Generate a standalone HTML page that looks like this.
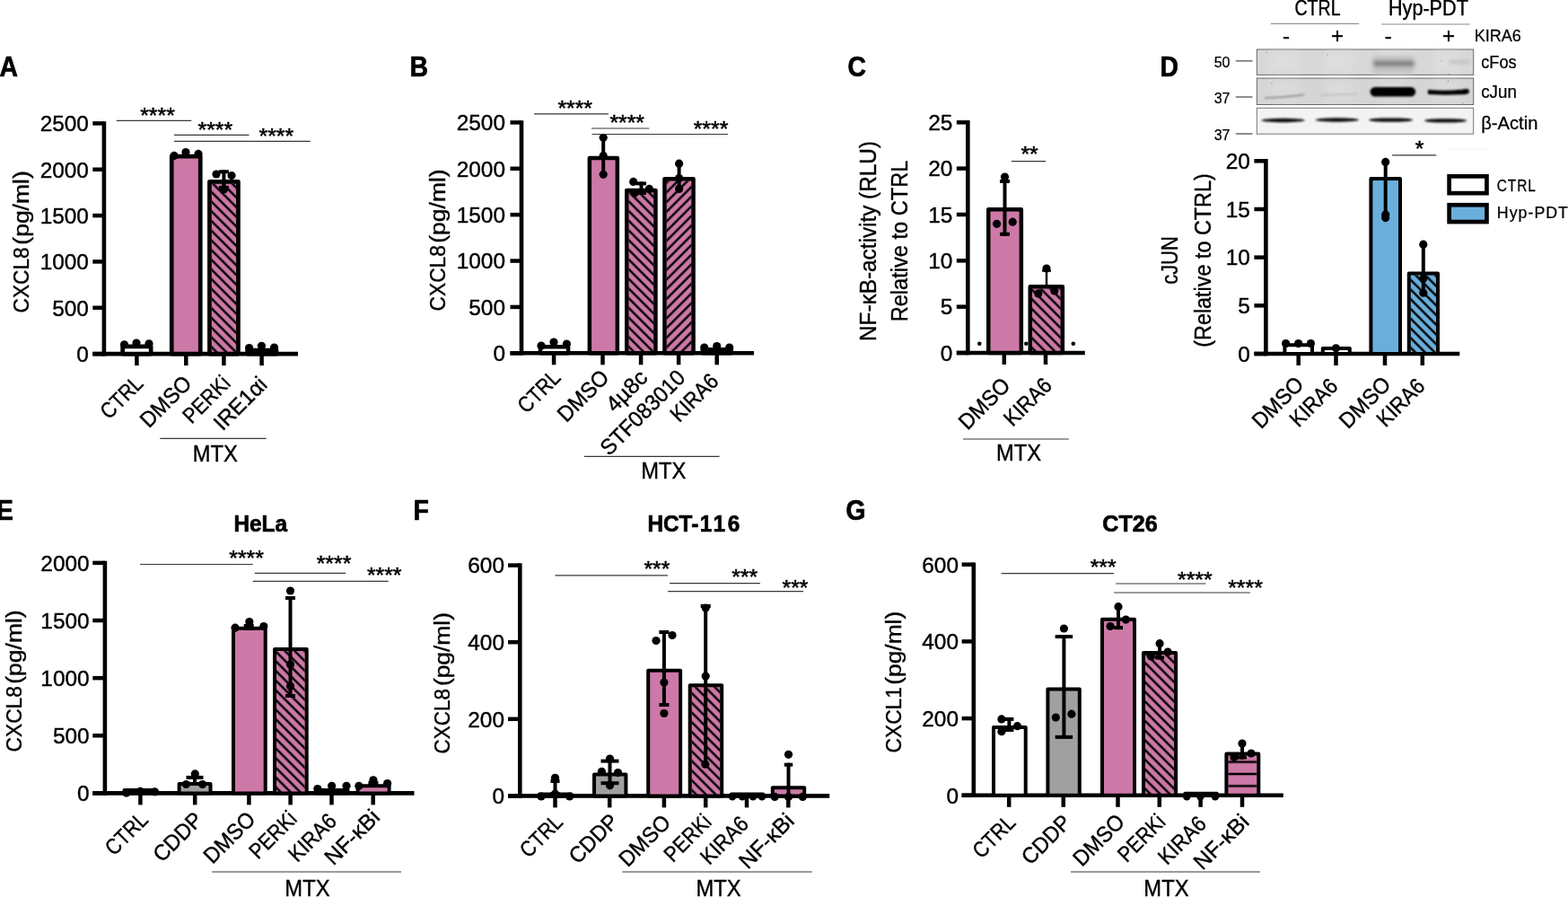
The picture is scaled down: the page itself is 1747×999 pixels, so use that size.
<!DOCTYPE html>
<html lang="en">
<head>
<meta charset="utf-8">
<title>Figure</title>
<style>
html,body{margin:0;padding:0;background:#fff;}
body{width:1747px;height:999px;overflow:hidden;}
svg{display:block;font-family:"Liberation Sans",sans-serif;}
text{stroke:#000;stroke-width:0.4px;}
</style>
</head>
<body>
<svg width="1747" height="999" viewBox="0 0 1747 999">
<defs>
<pattern id="h0" width="7.63" height="7.63" patternUnits="userSpaceOnUse" patternTransform="translate(238.3 297.4) rotate(45)"><rect x="-1" y="2.56" width="9.63" height="2.5" fill="#000"/></pattern>
<pattern id="h1" width="7.63" height="7.63" patternUnits="userSpaceOnUse" patternTransform="translate(703.2 297.1) rotate(45)"><rect x="-1" y="2.56" width="9.63" height="2.5" fill="#000"/></pattern>
<pattern id="h2" width="7.63" height="7.63" patternUnits="userSpaceOnUse" patternTransform="translate(739.9 308.7) rotate(-45)"><rect x="-1" y="2.56" width="9.63" height="2.5" fill="#000"/></pattern>
<pattern id="h3" width="7.63" height="7.63" patternUnits="userSpaceOnUse" patternTransform="translate(1153 342) rotate(45)"><rect x="-1" y="2.56" width="9.63" height="2.5" fill="#000"/></pattern>
<pattern id="h4" width="7.63" height="7.63" patternUnits="userSpaceOnUse" patternTransform="translate(1574.4 309) rotate(45)"><rect x="-1" y="2.56" width="9.63" height="2.5" fill="#000"/></pattern>
<pattern id="h5" width="7.63" height="7.63" patternUnits="userSpaceOnUse" patternTransform="translate(310.6 788.2) rotate(45)"><rect x="-1" y="2.56" width="9.63" height="2.5" fill="#000"/></pattern>
<pattern id="h6" width="7.63" height="7.63" patternUnits="userSpaceOnUse" patternTransform="translate(773.5 790.9) rotate(45)"><rect x="-1" y="2.56" width="9.63" height="2.5" fill="#000"/></pattern>
<pattern id="h7" width="7.63" height="7.63" patternUnits="userSpaceOnUse" patternTransform="translate(1279.1 790) rotate(45)"><rect x="-1" y="2.56" width="9.63" height="2.5" fill="#000"/></pattern>
<pattern id="h8" width="13.4" height="13.4" patternUnits="userSpaceOnUse" patternTransform="translate(1370 841.9) rotate(0)"><rect x="-1" y="5.45" width="15.4" height="2.5" fill="#000"/></pattern>
<filter id="b1" x="-20%" y="-100%" width="140%" height="300%"><feGaussianBlur stdDeviation="0.9"/></filter>
<filter id="b2" x="-20%" y="-100%" width="140%" height="300%"><feGaussianBlur stdDeviation="2"/></filter>
<filter id="b3" x="-30%" y="-30%" width="160%" height="160%"><feGaussianBlur stdDeviation="4"/></filter>
</defs>
<rect width="1747" height="999" fill="#fff"/>
<text transform="translate(-0.6 84.8) scale(0.92 1)" font-size="30.8" font-weight="bold" style="stroke-width:0.7px">A</text>
<text transform="translate(456.4 84.8) scale(0.92 1)" font-size="30.8" font-weight="bold" style="stroke-width:0.7px">B</text>
<text transform="translate(944.4 84.8) scale(0.92 1)" font-size="30.8" font-weight="bold" style="stroke-width:0.7px">C</text>
<text transform="translate(1292.4 84.8) scale(0.92 1)" font-size="30.8" font-weight="bold" style="stroke-width:0.7px">D</text>
<text transform="translate(-4.1 578.8) scale(0.92 1)" font-size="30.8" font-weight="bold" style="stroke-width:0.7px">E</text>
<text transform="translate(460.4 578.8) scale(0.92 1)" font-size="30.8" font-weight="bold" style="stroke-width:0.7px">F</text>
<text transform="translate(942.4 578.8) scale(0.92 1)" font-size="30.8" font-weight="bold" style="stroke-width:0.7px">G</text>
<line x1="115.9" y1="135.15" x2="115.9" y2="396.4" stroke="#000" stroke-width="4.6"/>
<line x1="103.3" y1="394.1" x2="332" y2="394.1" stroke="#000" stroke-width="4.6"/>
<line x1="103.3" y1="394.1" x2="115.9" y2="394.1" stroke="#000" stroke-width="4.5"/>
<text x="98.9" y="402.9" font-size="24.4" text-anchor="end">0</text>
<line x1="103.3" y1="342.76" x2="115.9" y2="342.76" stroke="#000" stroke-width="4.5"/>
<text x="98.9" y="351.56" font-size="24.4" text-anchor="end">500</text>
<line x1="103.3" y1="291.42" x2="115.9" y2="291.42" stroke="#000" stroke-width="4.5"/>
<text x="98.9" y="300.22" font-size="24.4" text-anchor="end">1000</text>
<line x1="103.3" y1="240.08" x2="115.9" y2="240.08" stroke="#000" stroke-width="4.5"/>
<text x="98.9" y="248.88" font-size="24.4" text-anchor="end">1500</text>
<line x1="103.3" y1="188.74" x2="115.9" y2="188.74" stroke="#000" stroke-width="4.5"/>
<text x="98.9" y="197.54" font-size="24.4" text-anchor="end">2000</text>
<line x1="103.3" y1="137.4" x2="115.9" y2="137.4" stroke="#000" stroke-width="4.5"/>
<text x="98.9" y="146.2" font-size="24.4" text-anchor="end">2500</text>
<line x1="152.4" y1="394.1" x2="152.4" y2="407.1" stroke="#000" stroke-width="4.5"/>
<line x1="207.3" y1="394.1" x2="207.3" y2="407.1" stroke="#000" stroke-width="4.5"/>
<line x1="249.4" y1="394.1" x2="249.4" y2="407.1" stroke="#000" stroke-width="4.5"/>
<line x1="291.6" y1="394.1" x2="291.6" y2="407.1" stroke="#000" stroke-width="4.5"/>
<rect x="136.65" y="385.95" width="31.5" height="8.15" fill="#fff" stroke="#000" stroke-width="4.7" stroke-linejoin="round"/>
<rect x="191.25" y="174.15" width="32" height="219.95" fill="#cd79a7" stroke="#000" stroke-width="4.7" stroke-linejoin="round"/>
<rect x="233.45" y="202.45" width="32" height="191.65" fill="#cd79a7" stroke="#000" stroke-width="4.7" stroke-linejoin="round"/>
<rect x="235.8" y="204.8" width="27.3" height="189.3" fill="url(#h0)"/>
<rect x="275.65" y="390.05" width="32.3" height="4.05" fill="#cd79a7" stroke="#000" stroke-width="4.7" stroke-linejoin="round"/>
<circle cx="138.5" cy="383.8" r="4.6"/>
<circle cx="152" cy="382" r="4.6"/>
<circle cx="166" cy="382.8" r="4.6"/>
<circle cx="194" cy="173.4" r="4.6"/>
<circle cx="207" cy="169.6" r="4.6"/>
<circle cx="221" cy="171.4" r="4.6"/>
<line x1="249.4" y1="189.3" x2="249.4" y2="211" stroke="#000" stroke-width="4"/>
<line x1="243.9" y1="191.3" x2="254.9" y2="191.3" stroke="#000" stroke-width="4"/>
<line x1="243.9" y1="209" x2="254.9" y2="209" stroke="#000" stroke-width="4"/>
<circle cx="241" cy="194" r="4.6"/>
<circle cx="258" cy="195.6" r="4.6"/>
<circle cx="249.4" cy="211" r="4.6"/>
<circle cx="277.6" cy="387.5" r="4.6"/>
<circle cx="291.4" cy="385.3" r="4.6"/>
<circle cx="305.5" cy="387" r="4.6"/>
<line x1="129.7" y1="134.4" x2="213.3" y2="134.4" stroke="#383838" stroke-width="1.2"/>
<text x="175.5" y="137.04" font-size="24.8" text-anchor="middle" style="stroke-width:0.55px">****</text>
<line x1="194" y1="150.3" x2="277.5" y2="150.3" stroke="#383838" stroke-width="1.2"/>
<text x="239.8" y="152.84" font-size="24.8" text-anchor="middle" style="stroke-width:0.55px">****</text>
<line x1="194" y1="157.3" x2="345.8" y2="157.3" stroke="#383838" stroke-width="1.2"/>
<text x="307.8" y="159.54" font-size="24.8" text-anchor="middle" style="stroke-width:0.55px">****</text>
<text transform="translate(32 348.4) rotate(-90)" font-size="24.4" textLength="73.1" lengthAdjust="spacingAndGlyphs">CXCL8</text>
<text transform="translate(32 272.7) rotate(-90)" font-size="24.4" textLength="82.5" lengthAdjust="spacingAndGlyphs">(pg/ml)</text>
<text transform="translate(161 428.5) rotate(-45) scale(0.87 1)" font-size="24.6" text-anchor="end">CTRL</text>
<text transform="translate(215 428.5) rotate(-45) scale(0.94 1)" font-size="24.6" text-anchor="end">DMSO</text>
<text transform="translate(258 428.5) rotate(-45) scale(0.87 1)" font-size="24.6" text-anchor="end">PERKi</text>
<text transform="translate(299 429.8) rotate(-45) scale(0.97 1)" font-size="24.6" text-anchor="end">IRE1&#945;i</text>
<line x1="178.3" y1="488.3" x2="296.7" y2="488.3" stroke="#383838" stroke-width="1.2"/>
<text transform="translate(239.8 514) scale(0.95 1)" font-size="25" text-anchor="middle">MTX</text>
<line x1="581" y1="134.15" x2="581" y2="395.6" stroke="#000" stroke-width="4.6"/>
<line x1="568.5" y1="393.3" x2="840" y2="393.3" stroke="#000" stroke-width="4.6"/>
<line x1="568.5" y1="393.3" x2="581" y2="393.3" stroke="#000" stroke-width="4.5"/>
<text x="563" y="402.1" font-size="24.4" text-anchor="end">0</text>
<line x1="568.5" y1="341.92" x2="581" y2="341.92" stroke="#000" stroke-width="4.5"/>
<text x="563" y="350.72" font-size="24.4" text-anchor="end">500</text>
<line x1="568.5" y1="290.54" x2="581" y2="290.54" stroke="#000" stroke-width="4.5"/>
<text x="563" y="299.34" font-size="24.4" text-anchor="end">1000</text>
<line x1="568.5" y1="239.16" x2="581" y2="239.16" stroke="#000" stroke-width="4.5"/>
<text x="563" y="247.96" font-size="24.4" text-anchor="end">1500</text>
<line x1="568.5" y1="187.78" x2="581" y2="187.78" stroke="#000" stroke-width="4.5"/>
<text x="563" y="196.58" font-size="24.4" text-anchor="end">2000</text>
<line x1="568.5" y1="136.4" x2="581" y2="136.4" stroke="#000" stroke-width="4.5"/>
<text x="563" y="145.2" font-size="24.4" text-anchor="end">2500</text>
<line x1="617.1" y1="393.3" x2="617.1" y2="406.3" stroke="#000" stroke-width="4.5"/>
<line x1="671.5" y1="393.3" x2="671.5" y2="406.3" stroke="#000" stroke-width="4.5"/>
<line x1="714.1" y1="393.3" x2="714.1" y2="406.3" stroke="#000" stroke-width="4.5"/>
<line x1="756.1" y1="393.3" x2="756.1" y2="406.3" stroke="#000" stroke-width="4.5"/>
<line x1="798.7" y1="393.3" x2="798.7" y2="406.3" stroke="#000" stroke-width="4.5"/>
<rect x="602.05" y="386.35" width="31" height="6.95" fill="#fff" stroke="#000" stroke-width="4.5" stroke-linejoin="round"/>
<rect x="656.85" y="176.05" width="31" height="217.25" fill="#cd79a7" stroke="#000" stroke-width="4.5" stroke-linejoin="round"/>
<rect x="698.25" y="212.05" width="32.2" height="181.25" fill="#cd79a7" stroke="#000" stroke-width="4.5" stroke-linejoin="round"/>
<rect x="700.5" y="214.3" width="27.7" height="179" fill="url(#h1)"/>
<rect x="740.45" y="199.25" width="32.1" height="194.05" fill="#cd79a7" stroke="#000" stroke-width="4.5" stroke-linejoin="round"/>
<rect x="742.7" y="201.5" width="27.6" height="191.8" fill="url(#h2)"/>
<rect x="782.75" y="389.35" width="32" height="3.95" fill="#cd79a7" stroke="#000" stroke-width="4.5" stroke-linejoin="round"/>
<circle cx="603" cy="385" r="4.6"/>
<circle cx="617" cy="381" r="4.6"/>
<circle cx="631.4" cy="383" r="4.6"/>
<line x1="672.2" y1="153.3" x2="672.2" y2="194.3" stroke="#000" stroke-width="4"/>
<circle cx="672.2" cy="153.3" r="4.6"/>
<circle cx="672.2" cy="173.4" r="4.6"/>
<circle cx="672.2" cy="194.3" r="4.6"/>
<line x1="714.5" y1="202.4" x2="714.5" y2="217" stroke="#000" stroke-width="4"/>
<line x1="709" y1="204.4" x2="720" y2="204.4" stroke="#000" stroke-width="4"/>
<line x1="709" y1="215" x2="720" y2="215" stroke="#000" stroke-width="4"/>
<circle cx="705.7" cy="202.4" r="4.6"/>
<circle cx="723.4" cy="210.4" r="4.6"/>
<circle cx="707" cy="215" r="4.6"/>
<line x1="756.6" y1="182.2" x2="756.6" y2="210.4" stroke="#000" stroke-width="4"/>
<circle cx="756.6" cy="182.2" r="4.6"/>
<circle cx="756.6" cy="198.6" r="4.6"/>
<circle cx="756.6" cy="210.4" r="4.6"/>
<circle cx="784.7" cy="387" r="4.6"/>
<circle cx="798.7" cy="385.6" r="4.6"/>
<circle cx="812.7" cy="387" r="4.6"/>
<line x1="595" y1="126.86" x2="678" y2="126.86" stroke="#383838" stroke-width="1.2"/>
<text x="640.7" y="129.24" font-size="24.8" text-anchor="middle" style="stroke-width:0.55px">****</text>
<line x1="659" y1="143" x2="723.4" y2="143" stroke="#383838" stroke-width="1.2"/>
<text x="698.7" y="145.29" font-size="24.8" text-anchor="middle" style="stroke-width:0.55px">****</text>
<line x1="659.5" y1="149.5" x2="811" y2="149.5" stroke="#383838" stroke-width="1.2"/>
<text x="792" y="152.34" font-size="24.8" text-anchor="middle" style="stroke-width:0.55px">****</text>
<text transform="translate(496 346.4) rotate(-90)" font-size="24.4" textLength="73.3" lengthAdjust="spacingAndGlyphs">CXCL8</text>
<text transform="translate(496 270.7) rotate(-90)" font-size="24.4" textLength="82.3" lengthAdjust="spacingAndGlyphs">(pg/ml)</text>
<text transform="translate(626 422.1) rotate(-45) scale(0.87 1)" font-size="24.6" text-anchor="end">CTRL</text>
<text transform="translate(680 422.1) rotate(-45) scale(0.94 1)" font-size="24.6" text-anchor="end">DMSO</text>
<text transform="translate(723 422.1) rotate(-45) scale(1 1)" font-size="24.6" text-anchor="end">4&#181;8c</text>
<text transform="translate(765 422.1) rotate(-45) scale(0.95 1)" font-size="24.6" text-anchor="end">STF083010</text>
<text transform="translate(802 426.1) rotate(-45) scale(0.9 1)" font-size="24.6" text-anchor="end">KIRA6</text>
<line x1="650.8" y1="508.4" x2="801.5" y2="508.4" stroke="#383838" stroke-width="1.2"/>
<text transform="translate(739.3 533) scale(0.95 1)" font-size="25" text-anchor="middle">MTX</text>
<line x1="1078.3" y1="134.05" x2="1078.3" y2="395.3" stroke="#000" stroke-width="4.6"/>
<line x1="1065.8" y1="393" x2="1208.8" y2="393" stroke="#000" stroke-width="4.6"/>
<line x1="1065.8" y1="393" x2="1078.3" y2="393" stroke="#000" stroke-width="4.5"/>
<text x="1061.4" y="401.8" font-size="24.4" text-anchor="end">0</text>
<line x1="1065.8" y1="341.66" x2="1078.3" y2="341.66" stroke="#000" stroke-width="4.5"/>
<text x="1061.4" y="350.46" font-size="24.4" text-anchor="end">5</text>
<line x1="1065.8" y1="290.32" x2="1078.3" y2="290.32" stroke="#000" stroke-width="4.5"/>
<text x="1061.4" y="299.12" font-size="24.4" text-anchor="end">10</text>
<line x1="1065.8" y1="238.98" x2="1078.3" y2="238.98" stroke="#000" stroke-width="4.5"/>
<text x="1061.4" y="247.78" font-size="24.4" text-anchor="end">15</text>
<line x1="1065.8" y1="187.64" x2="1078.3" y2="187.64" stroke="#000" stroke-width="4.5"/>
<text x="1061.4" y="196.44" font-size="24.4" text-anchor="end">20</text>
<line x1="1065.8" y1="136.3" x2="1078.3" y2="136.3" stroke="#000" stroke-width="4.5"/>
<text x="1061.4" y="145.1" font-size="24.4" text-anchor="end">25</text>
<line x1="1118.8" y1="393" x2="1118.8" y2="406" stroke="#000" stroke-width="4.5"/>
<line x1="1165" y1="393" x2="1165" y2="406" stroke="#000" stroke-width="4.5"/>
<rect x="1101.25" y="233.35" width="36.6" height="159.65" fill="#cd79a7" stroke="#000" stroke-width="4.5" stroke-linejoin="round"/>
<rect x="1147.75" y="319.25" width="36.1" height="73.75" fill="#cd79a7" stroke="#000" stroke-width="4.5" stroke-linejoin="round"/>
<rect x="1150" y="321.5" width="31.6" height="71.5" fill="url(#h3)"/>
<line x1="1119.5" y1="199.9" x2="1119.5" y2="262.8" stroke="#000" stroke-width="4"/>
<line x1="1114" y1="201.9" x2="1125" y2="201.9" stroke="#000" stroke-width="4"/>
<line x1="1114" y1="260.8" x2="1125" y2="260.8" stroke="#000" stroke-width="4"/>
<circle cx="1119.5" cy="197" r="4.6"/>
<circle cx="1110.6" cy="249.3" r="4.6"/>
<circle cx="1128.2" cy="247.2" r="4.6"/>
<line x1="1166" y1="300" x2="1166" y2="318" stroke="#000" stroke-width="2.4"/>
<line x1="1161" y1="301.6" x2="1171" y2="301.6" stroke="#000" stroke-width="2.2"/>
<circle cx="1166" cy="299" r="4.6"/>
<circle cx="1156.8" cy="326.9" r="4.6"/>
<circle cx="1174.8" cy="324" r="4.6"/>
<circle cx="1091.3" cy="382.8" r="2.3"/>
<circle cx="1143.3" cy="382.8" r="2.3"/>
<circle cx="1195.8" cy="382.8" r="2.3"/>
<line x1="1126.8" y1="179.6" x2="1165.1" y2="179.6" stroke="#383838" stroke-width="1.2"/>
<text x="1147.1" y="179.54" font-size="24.8" text-anchor="middle" style="stroke-width:0.55px">**</text>
<text transform="translate(976 268.5) rotate(-90)" font-size="25" text-anchor="middle" textLength="222.9" lengthAdjust="spacingAndGlyphs">NF-&#954;B-activity (RLU)</text>
<text transform="translate(1011 268.5) rotate(-90)" font-size="25" text-anchor="middle" textLength="179.7" lengthAdjust="spacingAndGlyphs">Relative to CTRL</text>
<text transform="translate(1127 430.8) rotate(-45) scale(0.94 1)" font-size="24.6" text-anchor="end">DMSO</text>
<text transform="translate(1173.5 430.8) rotate(-45) scale(0.9 1)" font-size="24.6" text-anchor="end">KIRA6</text>
<line x1="1073" y1="489" x2="1190.8" y2="489" stroke="#383838" stroke-width="1.2"/>
<text transform="translate(1135 513) scale(0.95 1)" font-size="25" text-anchor="middle">MTX</text>
<text transform="translate(1468 16.8) scale(0.85 1)" font-size="23" text-anchor="middle">CTRL</text>
<text transform="translate(1591.4 16.8) scale(0.94 1)" font-size="23" text-anchor="middle">Hyp-PDT</text>
<line x1="1415.8" y1="26.5" x2="1514.2" y2="26.5" stroke="#888" stroke-width="1.2"/>
<line x1="1539.3" y1="27" x2="1637.7" y2="27" stroke="#888" stroke-width="1.2"/>
<text x="1433" y="47.5" font-size="24" text-anchor="middle">-</text>
<text x="1490" y="47.5" font-size="24" text-anchor="middle">+</text>
<text x="1546.8" y="47.5" font-size="24" text-anchor="middle">-</text>
<text x="1614" y="47.5" font-size="24" text-anchor="middle">+</text>
<text transform="translate(1642.7 46) scale(0.95 1)" font-size="19" style="stroke-width:0.25px">KIRA6</text>
<rect x="1400.3" y="55" width="241.4" height="28.4" fill="#d8d8d8" stroke="#666" stroke-width="1"/>
<rect x="1400.3" y="87.1" width="241.4" height="29.4" fill="#d5d5d5" stroke="#666" stroke-width="1"/>
<rect x="1400.3" y="120.3" width="241.4" height="28.9" fill="#f3f3f3" stroke="#777" stroke-width="1"/>
<g filter="url(#b3)" opacity="0.55">
<rect x="1416" y="58" width="30" height="22" fill="#e2e2e2"/>
<rect x="1416" y="90" width="30" height="23" fill="#dfdfdf"/>
<rect x="1477" y="58" width="30" height="22" fill="#e2e2e2"/>
<rect x="1477" y="90" width="30" height="23" fill="#dfdfdf"/>
<rect x="1538" y="58" width="30" height="22" fill="#e2e2e2"/>
<rect x="1538" y="90" width="30" height="23" fill="#dfdfdf"/>
<rect x="1597" y="58" width="30" height="22" fill="#e2e2e2"/>
<rect x="1597" y="90" width="30" height="23" fill="#dfdfdf"/>
</g>
<g filter="url(#b2)">
<rect x="1529" y="62" width="47" height="20" rx="4" fill="#c4c4c4"/>
<rect x="1530" y="67.5" width="46" height="6.5" rx="3" fill="#7d7d7d"/>
<rect x="1614" y="67" width="24" height="4" rx="2" fill="#c0c0c0"/>
</g>
<g filter="url(#b1)">
<rect x="1526.6" y="97" width="50.6" height="10.6" rx="5.3" fill="#000"/>
<path d="M1591.5 100.6 Q1612 102.4 1630 100 Q1636 98.6 1636.5 101.6 Q1636 104.8 1630 104.6 Q1610 105.6 1591.5 104.4 Z" fill="#000" stroke="#000" stroke-width="1.2" stroke-linejoin="round"/>
<path d="M1409 108.3 Q1430 107.5 1453 104.6 L1453 106.6 Q1430 109.8 1409 110.2 Z" fill="#9a9a9a"/>
<path d="M1471 105.6 Q1490 104.2 1512 104 L1512 105.6 Q1490 106 1471 107.2 Z" fill="#bdbdbd"/>
<ellipse cx="1429.6" cy="134" rx="24.3" ry="2.2" fill="#111"/>
<ellipse cx="1489.8" cy="133.5" rx="24.3" ry="2.2" fill="#111"/>
<ellipse cx="1549.6" cy="133.6" rx="24.6" ry="2.2" fill="#111"/>
<ellipse cx="1610.6" cy="134.4" rx="23.6" ry="2.2" fill="#111"/>
</g>
<circle cx="1411" cy="58.3" r="0.6" fill="#777"/>
<circle cx="1479" cy="61" r="0.6" fill="#777"/>
<circle cx="1606.2" cy="67.5" r="0.6" fill="#777"/>
<circle cx="1417" cy="92.6" r="0.6" fill="#777"/>
<circle cx="1613.5" cy="90.4" r="0.6" fill="#777"/>
<circle cx="1614" cy="82.5" r="0.6" fill="#777"/>
<circle cx="1630" cy="115" r="0.6" fill="#777"/>
<text x="1352.7" y="74.8" font-size="16" style="stroke-width:0.25px">50</text>
<line x1="1376.8" y1="67.9" x2="1395.5" y2="67.9" stroke="#444" stroke-width="1.2"/>
<text x="1352.7" y="115" font-size="16" style="stroke-width:0.25px">37</text>
<line x1="1376.8" y1="108" x2="1395.5" y2="108" stroke="#444" stroke-width="1.2"/>
<text x="1352.7" y="155.6" font-size="16" style="stroke-width:0.25px">37</text>
<line x1="1376.8" y1="149" x2="1395.5" y2="149" stroke="#444" stroke-width="1.2"/>
<text transform="translate(1650.2 76.2) scale(0.91 1)" font-size="20" style="stroke-width:0.25px">cFos</text>
<text transform="translate(1650.2 108.8) scale(0.94 1)" font-size="20" style="stroke-width:0.25px">cJun</text>
<text transform="translate(1650.2 144.3) scale(1.01 1)" font-size="20" style="stroke-width:0.25px">&#946;-Actin</text>
<line x1="1410.4" y1="177.05" x2="1410.4" y2="396.3" stroke="#000" stroke-width="4.6"/>
<line x1="1397.4" y1="394" x2="1626.3" y2="394" stroke="#000" stroke-width="4.6"/>
<line x1="1397.4" y1="394" x2="1410.4" y2="394" stroke="#000" stroke-width="4.5"/>
<text x="1392.9" y="402.8" font-size="24.4" text-anchor="end">0</text>
<line x1="1397.4" y1="340.32" x2="1410.4" y2="340.32" stroke="#000" stroke-width="4.5"/>
<text x="1392.9" y="349.12" font-size="24.4" text-anchor="end">5</text>
<line x1="1397.4" y1="286.65" x2="1410.4" y2="286.65" stroke="#000" stroke-width="4.5"/>
<text x="1392.9" y="295.45" font-size="24.4" text-anchor="end">10</text>
<line x1="1397.4" y1="232.97" x2="1410.4" y2="232.97" stroke="#000" stroke-width="4.5"/>
<text x="1392.9" y="241.78" font-size="24.4" text-anchor="end">15</text>
<line x1="1397.4" y1="179.3" x2="1410.4" y2="179.3" stroke="#000" stroke-width="4.5"/>
<text x="1392.9" y="188.1" font-size="24.4" text-anchor="end">20</text>
<line x1="1446.7" y1="394" x2="1446.7" y2="407" stroke="#000" stroke-width="4.5"/>
<line x1="1488.5" y1="394" x2="1488.5" y2="407" stroke="#000" stroke-width="4.5"/>
<line x1="1543" y1="394" x2="1543" y2="407" stroke="#000" stroke-width="4.5"/>
<line x1="1584.8" y1="394" x2="1584.8" y2="407" stroke="#000" stroke-width="4.5"/>
<rect x="1431.4" y="384.3" width="30.6" height="9.7" fill="#fff" stroke="#000" stroke-width="4" stroke-linejoin="round"/>
<rect x="1473.8" y="388.1" width="30" height="5.9" fill="#fff" stroke="#000" stroke-width="4" stroke-linejoin="round"/>
<rect x="1527.4" y="199.1" width="32.6" height="194.9" fill="#6aafdc" stroke="#000" stroke-width="4" stroke-linejoin="round"/>
<rect x="1569.8" y="304.5" width="32.2" height="89.5" fill="#6aafdc" stroke="#000" stroke-width="4" stroke-linejoin="round"/>
<rect x="1571.8" y="306.5" width="28.2" height="87.5" fill="url(#h4)"/>
<circle cx="1432.6" cy="382.6" r="4.6"/>
<circle cx="1446.7" cy="382.6" r="4.6"/>
<circle cx="1460.4" cy="382.6" r="4.6"/>
<circle cx="1488.5" cy="387.8" r="4.6"/>
<line x1="1543.7" y1="180.4" x2="1543.7" y2="242" stroke="#000" stroke-width="4"/>
<circle cx="1543.7" cy="180.4" r="4.6"/>
<circle cx="1543.7" cy="239" r="4.6"/>
<circle cx="1543.7" cy="242.6" r="4.6"/>
<line x1="1585.8" y1="274" x2="1585.8" y2="327" stroke="#000" stroke-width="4"/>
<circle cx="1585.8" cy="272.2" r="4.6"/>
<circle cx="1585.8" cy="310.2" r="4.6"/>
<circle cx="1585.8" cy="326.2" r="4.6"/>
<line x1="1551.1" y1="172.95" x2="1600.2" y2="172.95" stroke="#383838" stroke-width="1.2"/>
<text x="1581.5" y="173.94" font-size="24.8" text-anchor="middle" style="stroke-width:0.55px">*</text>
<rect x="1614.65" y="196.35" width="41.8" height="18.8" fill="#fff" stroke="#000" stroke-width="4.7"/>
<rect x="1614.65" y="228.25" width="41.8" height="18.8" fill="#6aafdc" stroke="#000" stroke-width="4.7"/>
<text transform="translate(1667.8 213) scale(0.86 1)" font-size="18" letter-spacing="1" style="stroke-width:0.25px">CTRL</text>
<text transform="translate(1667.8 242.6) scale(0.99 1)" font-size="18" letter-spacing="1" style="stroke-width:0.25px">Hyp-PDT</text>
<line x1="1612.4" y1="166" x2="1658" y2="166" stroke="#f3f3f3" stroke-width="1"/>
<text transform="translate(1312 290) rotate(-90)" font-size="25" text-anchor="middle" textLength="53.7" lengthAdjust="spacingAndGlyphs">cJUN</text>
<text transform="translate(1349 290) rotate(-90)" font-size="25" text-anchor="middle" textLength="193.5" lengthAdjust="spacingAndGlyphs">(Relative to CTRL)</text>
<text transform="translate(1454 429.5) rotate(-45) scale(0.94 1)" font-size="24.6" text-anchor="end">DMSO</text>
<text transform="translate(1492 431.5) rotate(-45) scale(0.9 1)" font-size="24.6" text-anchor="end">KIRA6</text>
<text transform="translate(1551 429.5) rotate(-45) scale(0.94 1)" font-size="24.6" text-anchor="end">DMSO</text>
<text transform="translate(1589 431.5) rotate(-45) scale(0.9 1)" font-size="24.6" text-anchor="end">KIRA6</text>
<text transform="translate(290.2 591.7) scale(0.93 1)" font-size="26.15" text-anchor="middle" font-weight="bold" style="stroke-width:0.7px">HeLa</text>
<line x1="116.9" y1="624.65" x2="116.9" y2="885.7" stroke="#000" stroke-width="4.6"/>
<line x1="103.3" y1="883.4" x2="461.5" y2="883.4" stroke="#000" stroke-width="4.6"/>
<line x1="103.3" y1="883.4" x2="116.9" y2="883.4" stroke="#000" stroke-width="4.5"/>
<text x="99.6" y="892.2" font-size="24.4" text-anchor="end">0</text>
<line x1="103.3" y1="819.27" x2="116.9" y2="819.27" stroke="#000" stroke-width="4.5"/>
<text x="99.6" y="828.07" font-size="24.4" text-anchor="end">500</text>
<line x1="103.3" y1="755.15" x2="116.9" y2="755.15" stroke="#000" stroke-width="4.5"/>
<text x="99.6" y="763.95" font-size="24.4" text-anchor="end">1000</text>
<line x1="103.3" y1="691.02" x2="116.9" y2="691.02" stroke="#000" stroke-width="4.5"/>
<text x="99.6" y="699.82" font-size="24.4" text-anchor="end">1500</text>
<line x1="103.3" y1="626.9" x2="116.9" y2="626.9" stroke="#000" stroke-width="4.5"/>
<text x="99.6" y="635.7" font-size="24.4" text-anchor="end">2000</text>
<line x1="156.4" y1="883.4" x2="156.4" y2="896.4" stroke="#000" stroke-width="4.5"/>
<line x1="217.2" y1="883.4" x2="217.2" y2="896.4" stroke="#000" stroke-width="4.5"/>
<line x1="277.4" y1="883.4" x2="277.4" y2="896.4" stroke="#000" stroke-width="4.5"/>
<line x1="323.6" y1="883.4" x2="323.6" y2="896.4" stroke="#000" stroke-width="4.5"/>
<line x1="369.5" y1="883.4" x2="369.5" y2="896.4" stroke="#000" stroke-width="4.5"/>
<line x1="415.7" y1="883.4" x2="415.7" y2="896.4" stroke="#000" stroke-width="4.5"/>
<rect x="138.5" y="880.1" width="35" height="3.3" fill="#fff" stroke="#000" stroke-width="4" stroke-linejoin="round"/>
<rect x="199.6" y="872.9" width="34.9" height="10.5" fill="#a0a0a0" stroke="#000" stroke-width="4" stroke-linejoin="round"/>
<rect x="260" y="699.8" width="35.7" height="183.6" fill="#cd79a7" stroke="#000" stroke-width="4" stroke-linejoin="round"/>
<rect x="306" y="723.1" width="35.7" height="160.3" fill="#cd79a7" stroke="#000" stroke-width="4" stroke-linejoin="round"/>
<rect x="308" y="725.1" width="31.7" height="158.3" fill="url(#h5)"/>
<rect x="352.5" y="880.1" width="35" height="3.3" fill="#cd79a7" stroke="#000" stroke-width="4" stroke-linejoin="round"/>
<rect x="398.6" y="875.2" width="35" height="8.2" fill="#cd79a7" stroke="#000" stroke-width="4" stroke-linejoin="round"/>
<circle cx="140.8" cy="883.1" r="4.6"/>
<circle cx="156.3" cy="881.3" r="4.6"/>
<circle cx="172.4" cy="881.8" r="4.6"/>
<line x1="217" y1="863.9" x2="217" y2="875" stroke="#000" stroke-width="4"/>
<line x1="207.5" y1="865.9" x2="226.5" y2="865.9" stroke="#000" stroke-width="4"/>
<line x1="207.5" y1="873" x2="226.5" y2="873" stroke="#000" stroke-width="4"/>
<circle cx="207.4" cy="873.5" r="4.6"/>
<circle cx="217.3" cy="861.9" r="4.6"/>
<circle cx="225.6" cy="873.5" r="4.6"/>
<line x1="277.2" y1="695" x2="277.2" y2="702" stroke="#000" stroke-width="4"/>
<line x1="271.7" y1="697" x2="282.7" y2="697" stroke="#000" stroke-width="4"/>
<line x1="271.7" y1="700" x2="282.7" y2="700" stroke="#000" stroke-width="4"/>
<circle cx="262" cy="699.2" r="4.6"/>
<circle cx="277.8" cy="692.6" r="4.6"/>
<circle cx="293.8" cy="697.6" r="4.6"/>
<line x1="323.5" y1="664" x2="323.5" y2="777" stroke="#000" stroke-width="4"/>
<line x1="318" y1="666" x2="329" y2="666" stroke="#000" stroke-width="4"/>
<line x1="318" y1="775" x2="329" y2="775" stroke="#000" stroke-width="4"/>
<circle cx="323.5" cy="658" r="4.6"/>
<circle cx="323.5" cy="740" r="4.6"/>
<circle cx="323.5" cy="764" r="4.6"/>
<circle cx="353.8" cy="878.6" r="4.6"/>
<circle cx="369.6" cy="875.3" r="4.6"/>
<circle cx="386" cy="875.3" r="4.6"/>
<line x1="415.9" y1="870" x2="415.9" y2="876" stroke="#000" stroke-width="4"/>
<line x1="410.4" y1="872" x2="421.4" y2="872" stroke="#000" stroke-width="4"/>
<circle cx="399.9" cy="875.3" r="4.6"/>
<circle cx="415.9" cy="868.8" r="4.6"/>
<circle cx="431.6" cy="872.5" r="4.6"/>
<line x1="156" y1="628.5" x2="281.8" y2="628.5" stroke="#383838" stroke-width="1.2"/>
<text x="274.6" y="629.74" font-size="24.8" text-anchor="middle" style="stroke-width:0.55px">****</text>
<line x1="283.8" y1="638.45" x2="385" y2="638.45" stroke="#383838" stroke-width="1.2"/>
<text x="372" y="636.44" font-size="24.8" text-anchor="middle" style="stroke-width:0.55px">****</text>
<line x1="281.8" y1="647.3" x2="432.7" y2="647.3" stroke="#383838" stroke-width="1.2"/>
<text x="428.2" y="648.54" font-size="24.8" text-anchor="middle" style="stroke-width:0.55px">****</text>
<text transform="translate(24 837.4) rotate(-90)" font-size="24.4" textLength="73.3" lengthAdjust="spacingAndGlyphs">CXCL8</text>
<text transform="translate(24 761.7) rotate(-90)" font-size="24.4" textLength="82.3" lengthAdjust="spacingAndGlyphs">(pg/ml)</text>
<text transform="translate(166.4 914.5) rotate(-45) scale(0.87 1)" font-size="24.6" text-anchor="end">CTRL</text>
<text transform="translate(227.2 914.5) rotate(-45) scale(0.95 1)" font-size="24.6" text-anchor="end">CDDP</text>
<text transform="translate(285.9 914) rotate(-45) scale(0.94 1)" font-size="24.6" text-anchor="end">DMSO</text>
<text transform="translate(332.1 913.5) rotate(-45) scale(0.87 1)" font-size="24.6" text-anchor="end">PERKi</text>
<text transform="translate(376.5 916) rotate(-45) scale(0.9 1)" font-size="24.6" text-anchor="end">KIRA6</text>
<text transform="translate(424.7 911.7) rotate(-45) scale(1 1)" font-size="24.6" text-anchor="end">NF-&#954;Bi</text>
<line x1="236" y1="971" x2="447" y2="971" stroke="#383838" stroke-width="1.2"/>
<text transform="translate(342.4 998) scale(0.95 1)" font-size="25" text-anchor="middle">MTX</text>
<text transform="translate(721.5 591.7) scale(0.93 1)" font-size="26.15" font-weight="bold" style="stroke-width:0.7px">HCT-<tspan dx="1.5" letter-spacing="2.9">116</tspan></text>
<line x1="579.3" y1="627.35" x2="579.3" y2="888.7" stroke="#000" stroke-width="4.6"/>
<line x1="566" y1="886.4" x2="924.2" y2="886.4" stroke="#000" stroke-width="4.6"/>
<line x1="566" y1="886.4" x2="579.3" y2="886.4" stroke="#000" stroke-width="4.5"/>
<text x="562" y="895.2" font-size="24.4" text-anchor="end">0</text>
<line x1="566" y1="800.8" x2="579.3" y2="800.8" stroke="#000" stroke-width="4.5"/>
<text x="562" y="809.6" font-size="24.4" text-anchor="end">200</text>
<line x1="566" y1="715.2" x2="579.3" y2="715.2" stroke="#000" stroke-width="4.5"/>
<text x="562" y="724" font-size="24.4" text-anchor="end">400</text>
<line x1="566" y1="629.6" x2="579.3" y2="629.6" stroke="#000" stroke-width="4.5"/>
<text x="562" y="638.4" font-size="24.4" text-anchor="end">600</text>
<line x1="618.5" y1="886.4" x2="618.5" y2="899.4" stroke="#000" stroke-width="4.5"/>
<line x1="679.2" y1="886.4" x2="679.2" y2="899.4" stroke="#000" stroke-width="4.5"/>
<line x1="739.9" y1="886.4" x2="739.9" y2="899.4" stroke="#000" stroke-width="4.5"/>
<line x1="786.2" y1="886.4" x2="786.2" y2="899.4" stroke="#000" stroke-width="4.5"/>
<line x1="832" y1="886.4" x2="832" y2="899.4" stroke="#000" stroke-width="4.5"/>
<line x1="878.3" y1="886.4" x2="878.3" y2="899.4" stroke="#000" stroke-width="4.5"/>
<rect x="601" y="884.6" width="35.5" height="1.8" fill="#fff" stroke="#000" stroke-width="4" stroke-linejoin="round"/>
<rect x="662" y="862.6" width="35.4" height="23.8" fill="#a0a0a0" stroke="#000" stroke-width="4" stroke-linejoin="round"/>
<rect x="722.2" y="746.7" width="35.9" height="139.7" fill="#cd79a7" stroke="#000" stroke-width="4" stroke-linejoin="round"/>
<rect x="768.7" y="763.2" width="35.5" height="123.2" fill="#cd79a7" stroke="#000" stroke-width="4" stroke-linejoin="round"/>
<rect x="770.7" y="765.2" width="31.5" height="121.2" fill="url(#h6)"/>
<rect x="814.7" y="884.5" width="35.5" height="1.9" fill="#cd79a7" stroke="#000" stroke-width="4" stroke-linejoin="round"/>
<rect x="860.8" y="877.3" width="35.4" height="9.1" fill="#cd79a7" stroke="#000" stroke-width="4" stroke-linejoin="round"/>
<line x1="618.5" y1="868" x2="618.5" y2="886" stroke="#000" stroke-width="4"/>
<line x1="613.5" y1="870" x2="623.5" y2="870" stroke="#000" stroke-width="4"/>
<line x1="613.5" y1="884" x2="623.5" y2="884" stroke="#000" stroke-width="4"/>
<circle cx="603" cy="887" r="4.6"/>
<circle cx="618.5" cy="866.3" r="4.6"/>
<circle cx="634.6" cy="887" r="4.6"/>
<circle cx="618.5" cy="884" r="4.6"/>
<line x1="679.5" y1="845.6" x2="679.5" y2="874.2" stroke="#000" stroke-width="4"/>
<line x1="669.5" y1="847.6" x2="689.5" y2="847.6" stroke="#000" stroke-width="4"/>
<line x1="669.5" y1="872.2" x2="689.5" y2="872.2" stroke="#000" stroke-width="4"/>
<circle cx="670.4" cy="859.3" r="4.6"/>
<circle cx="679.5" cy="845" r="4.6"/>
<circle cx="688.5" cy="860.6" r="4.6"/>
<circle cx="679.5" cy="874.8" r="4.6"/>
<line x1="739.9" y1="702" x2="739.9" y2="787" stroke="#000" stroke-width="4"/>
<line x1="734.4" y1="704" x2="745.4" y2="704" stroke="#000" stroke-width="4"/>
<line x1="734.4" y1="785" x2="745.4" y2="785" stroke="#000" stroke-width="4"/>
<circle cx="731" cy="713.5" r="4.6"/>
<circle cx="749" cy="707.5" r="4.6"/>
<circle cx="739.9" cy="760" r="4.6"/>
<circle cx="739.9" cy="794.5" r="4.6"/>
<line x1="786.2" y1="673" x2="786.2" y2="852" stroke="#000" stroke-width="4"/>
<line x1="780.7" y1="675" x2="791.7" y2="675" stroke="#000" stroke-width="4"/>
<circle cx="786.2" cy="677" r="4.6"/>
<circle cx="786.2" cy="753" r="4.6"/>
<circle cx="785.8" cy="851.2" r="4.6"/>
<circle cx="816" cy="887.4" r="4.2"/>
<circle cx="827" cy="887.4" r="4.2"/>
<circle cx="839" cy="887.4" r="4.2"/>
<circle cx="849" cy="887.4" r="4.2"/>
<line x1="878.5" y1="849.7" x2="878.5" y2="886" stroke="#000" stroke-width="4"/>
<line x1="873.75" y1="851.7" x2="883.25" y2="851.7" stroke="#000" stroke-width="4"/>
<circle cx="878.5" cy="840.3" r="4.6"/>
<circle cx="863.2" cy="887.4" r="4.6"/>
<circle cx="894.3" cy="887.4" r="4.6"/>
<circle cx="878.5" cy="887.4" r="4.6"/>
<line x1="618.5" y1="640.8" x2="743.9" y2="640.8" stroke="#383838" stroke-width="1.2"/>
<text x="731.9" y="642.14" font-size="24.8" text-anchor="middle" style="stroke-width:0.55px">***</text>
<line x1="746.1" y1="649.6" x2="846.9" y2="649.6" stroke="#383838" stroke-width="1.2"/>
<text x="829.8" y="650.54" font-size="24.8" text-anchor="middle" style="stroke-width:0.55px">***</text>
<line x1="744.1" y1="658.55" x2="895" y2="658.55" stroke="#383838" stroke-width="1.2"/>
<text x="886" y="662.54" font-size="24.8" text-anchor="middle" style="stroke-width:0.55px">***</text>
<text transform="translate(500.6 839.4) rotate(-90)" font-size="24.4" textLength="72.3" lengthAdjust="spacingAndGlyphs">CXCL8</text>
<text transform="translate(500.6 764.1) rotate(-90)" font-size="24.4" textLength="82.1" lengthAdjust="spacingAndGlyphs">(pg/ml)</text>
<text transform="translate(628.5 917) rotate(-45) scale(0.87 1)" font-size="24.6" text-anchor="end">CTRL</text>
<text transform="translate(690.5 916.4) rotate(-45) scale(0.95 1)" font-size="24.6" text-anchor="end">CDDP</text>
<text transform="translate(748.6 917.5) rotate(-45) scale(0.94 1)" font-size="24.6" text-anchor="end">DMSO</text>
<text transform="translate(794.2 916.9) rotate(-45) scale(0.87 1)" font-size="24.6" text-anchor="end">PERKi</text>
<text transform="translate(835.5 919) rotate(-45) scale(0.9 1)" font-size="24.6" text-anchor="end">KIRA6</text>
<text transform="translate(886.3 915.8) rotate(-45) scale(1 1)" font-size="24.6" text-anchor="end">NF-&#954;Bi</text>
<line x1="693.3" y1="971" x2="904.8" y2="971" stroke="#383838" stroke-width="1.2"/>
<text transform="translate(800.6 998) scale(0.95 1)" font-size="25" text-anchor="middle">MTX</text>
<text transform="translate(1259 591.7) scale(0.96 1)" font-size="26.15" text-anchor="middle" font-weight="bold" style="stroke-width:0.7px">CT26</text>
<line x1="1084.8" y1="626.45" x2="1084.8" y2="888.1" stroke="#000" stroke-width="4.6"/>
<line x1="1071.6" y1="885.8" x2="1429.8" y2="885.8" stroke="#000" stroke-width="4.6"/>
<line x1="1071.6" y1="885.8" x2="1084.8" y2="885.8" stroke="#000" stroke-width="4.5"/>
<text x="1068" y="894.6" font-size="24.4" text-anchor="end">0</text>
<line x1="1071.6" y1="800.1" x2="1084.8" y2="800.1" stroke="#000" stroke-width="4.5"/>
<text x="1068" y="808.9" font-size="24.4" text-anchor="end">200</text>
<line x1="1071.6" y1="714.4" x2="1084.8" y2="714.4" stroke="#000" stroke-width="4.5"/>
<text x="1068" y="723.2" font-size="24.4" text-anchor="end">400</text>
<line x1="1071.6" y1="628.7" x2="1084.8" y2="628.7" stroke="#000" stroke-width="4.5"/>
<text x="1068" y="637.5" font-size="24.4" text-anchor="end">600</text>
<line x1="1124.2" y1="885.8" x2="1124.2" y2="898.8" stroke="#000" stroke-width="4.5"/>
<line x1="1184.8" y1="885.8" x2="1184.8" y2="898.8" stroke="#000" stroke-width="4.5"/>
<line x1="1245.5" y1="885.8" x2="1245.5" y2="898.8" stroke="#000" stroke-width="4.5"/>
<line x1="1291.8" y1="885.8" x2="1291.8" y2="898.8" stroke="#000" stroke-width="4.5"/>
<line x1="1337.6" y1="885.8" x2="1337.6" y2="898.8" stroke="#000" stroke-width="4.5"/>
<line x1="1384" y1="885.8" x2="1384" y2="898.8" stroke="#000" stroke-width="4.5"/>
<rect x="1107" y="809.9" width="35.7" height="75.9" fill="#fff" stroke="#000" stroke-width="4" stroke-linejoin="round"/>
<rect x="1167.4" y="767.4" width="35.4" height="118.4" fill="#a0a0a0" stroke="#000" stroke-width="4" stroke-linejoin="round"/>
<rect x="1228" y="689.7" width="36" height="196.1" fill="#cd79a7" stroke="#000" stroke-width="4" stroke-linejoin="round"/>
<rect x="1274" y="727.1" width="36.1" height="158.7" fill="#cd79a7" stroke="#000" stroke-width="4" stroke-linejoin="round"/>
<rect x="1276" y="729.1" width="32.1" height="156.7" fill="url(#h7)"/>
<rect x="1320.4" y="883.7" width="35.4" height="2.1" fill="#cd79a7" stroke="#000" stroke-width="4" stroke-linejoin="round"/>
<rect x="1366.4" y="839.4" width="35.9" height="46.4" fill="#cd79a7" stroke="#000" stroke-width="4" stroke-linejoin="round"/>
<rect x="1368.4" y="841.4" width="31.9" height="44.4" fill="url(#h8)"/>
<line x1="1124.4" y1="798.9" x2="1124.4" y2="815" stroke="#000" stroke-width="4"/>
<line x1="1119.4" y1="800.9" x2="1129.4" y2="800.9" stroke="#000" stroke-width="4"/>
<line x1="1119.4" y1="813" x2="1129.4" y2="813" stroke="#000" stroke-width="4"/>
<circle cx="1115.9" cy="800.9" r="4.6"/>
<circle cx="1115.9" cy="814.7" r="4.6"/>
<circle cx="1133.5" cy="808.7" r="4.6"/>
<line x1="1185.4" y1="707" x2="1185.4" y2="822.9" stroke="#000" stroke-width="4"/>
<line x1="1175.65" y1="709" x2="1195.15" y2="709" stroke="#000" stroke-width="4"/>
<line x1="1175.65" y1="820.9" x2="1195.15" y2="820.9" stroke="#000" stroke-width="4"/>
<circle cx="1185.4" cy="700" r="4.6"/>
<circle cx="1176.3" cy="799.1" r="4.6"/>
<circle cx="1193.9" cy="795.2" r="4.6"/>
<line x1="1246" y1="677" x2="1246" y2="701.1" stroke="#000" stroke-width="4"/>
<line x1="1241" y1="699.1" x2="1251" y2="699.1" stroke="#000" stroke-width="4"/>
<circle cx="1246" cy="675.7" r="4.6"/>
<circle cx="1237" cy="697.5" r="4.6"/>
<circle cx="1254.4" cy="690.1" r="4.6"/>
<line x1="1292.1" y1="719" x2="1292.1" y2="734.5" stroke="#000" stroke-width="4"/>
<line x1="1287.1" y1="732.5" x2="1297.1" y2="732.5" stroke="#000" stroke-width="4"/>
<circle cx="1292.1" cy="716.7" r="4.6"/>
<circle cx="1282.5" cy="731.1" r="4.6"/>
<circle cx="1301.1" cy="726.1" r="4.6"/>
<circle cx="1322.3" cy="887.4" r="4.2"/>
<circle cx="1337.4" cy="887.4" r="4.2"/>
<circle cx="1353.9" cy="887.4" r="4.2"/>
<line x1="1384" y1="830" x2="1384" y2="845.5" stroke="#000" stroke-width="4"/>
<line x1="1379" y1="843.5" x2="1389" y2="843.5" stroke="#000" stroke-width="4"/>
<circle cx="1384" cy="828" r="4.6"/>
<circle cx="1375" cy="843.5" r="4.6"/>
<circle cx="1394" cy="839" r="4.6"/>
<line x1="1115.6" y1="638.54" x2="1241.1" y2="638.54" stroke="#383838" stroke-width="1.2"/>
<text x="1229.2" y="639.7" font-size="24.8" text-anchor="middle" style="stroke-width:0.55px">***</text>
<line x1="1243.2" y1="650" x2="1343.5" y2="650" stroke="#383838" stroke-width="1.2"/>
<text x="1331.3" y="653.54" font-size="24.8" text-anchor="middle" style="stroke-width:0.55px">****</text>
<line x1="1241.1" y1="660" x2="1393" y2="660" stroke="#383838" stroke-width="1.2"/>
<text x="1387.5" y="663.34" font-size="24.8" text-anchor="middle" style="stroke-width:0.55px">****</text>
<text transform="translate(1004.4 838.4) rotate(-90)" font-size="24.4" textLength="73.3" lengthAdjust="spacingAndGlyphs">CXCL1</text>
<text transform="translate(1004.4 762.7) rotate(-90)" font-size="24.4" textLength="81.9" lengthAdjust="spacingAndGlyphs">(pg/ml)</text>
<text transform="translate(1132.9 917.7) rotate(-45) scale(0.87 1)" font-size="24.6" text-anchor="end">CTRL</text>
<text transform="translate(1194.8 917.5) rotate(-45) scale(0.95 1)" font-size="24.6" text-anchor="end">CDDP</text>
<text transform="translate(1254.5 916.9) rotate(-45) scale(0.94 1)" font-size="24.6" text-anchor="end">DMSO</text>
<text transform="translate(1299.8 916.9) rotate(-45) scale(0.87 1)" font-size="24.6" text-anchor="end">PERKi</text>
<text transform="translate(1345.4 919) rotate(-45) scale(0.9 1)" font-size="24.6" text-anchor="end">KIRA6</text>
<text transform="translate(1393 916.9) rotate(-45) scale(1 1)" font-size="24.6" text-anchor="end">NF-&#954;Bi</text>
<line x1="1193" y1="971" x2="1404" y2="971" stroke="#383838" stroke-width="1.2"/>
<text transform="translate(1299.4 998) scale(0.95 1)" font-size="25" text-anchor="middle">MTX</text>
</svg>
</body>
</html>
